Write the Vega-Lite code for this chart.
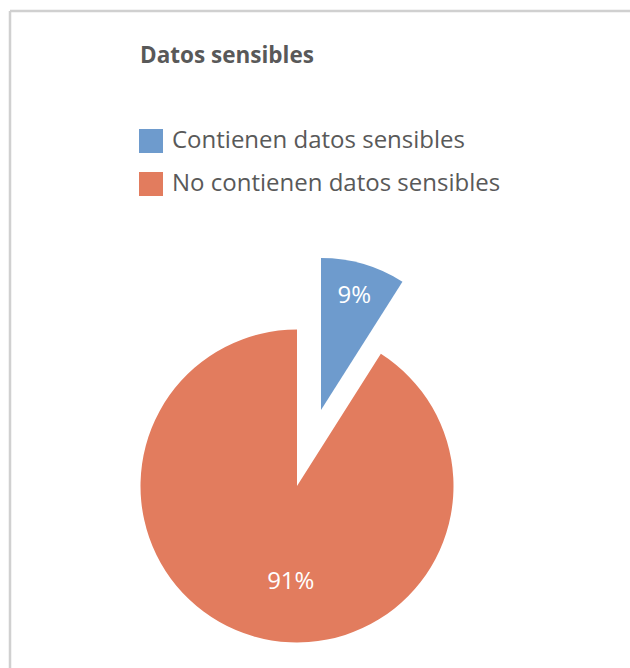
{
  "$schema": "https://vega.github.io/schema/vega-lite/v6.json",
  "width": 620,
  "height": 657,
  "autosize": "none",
  "padding": {"left": 10, "top": 11, "right": 0, "bottom": 0},
  "background": "white",
  "view": {"stroke": "#D0D0D0", "strokeWidth": 2.5, "strokeDash": [620, 1277, 657, 0], "fill": null},
  "config": {
    "font": "Open Sans"
  },
  "title": {
    "text": "Datos sensibles",
    "anchor": "start",
    "frame": "group",
    "dx": 130,
    "offset": -74,
    "baseline": "alphabetic",
    "fontSize": 22.5,
    "fontWeight": "bold",
    "color": "#595959",
    "font": "Open Sans"
  },
  "data": {
    "values": [
      {"category": "Contienen datos sensibles", "value": 9, "label": "9%"},
      {"category": "No contienen datos sensibles", "value": 91, "label": "91%"}
    ]
  },
  "transform": [
    {"stack": "value", "groupby": [], "sort": [{"field": "category", "order": "ascending"}], "as": ["start", "end"]},
    {"calculate": "(datum.start + datum.end) / 2", "as": "mid"}
  ],
  "layer": [
    {
      "transform": [{"filter": "datum.category === 'No contienen datos sensibles'"}],
      "mark": {"type": "arc", "outerRadius": 156.5, "xOffset": -23, "yOffset": 146.5},
      "encoding": {
        "theta": {"field": "start", "type": "quantitative", "scale": {"domain": [0, 100]}},
        "theta2": {"field": "end"},
        "color": {
          "field": "category",
          "type": "nominal",
          "scale": {"domain": ["Contienen datos sensibles", "No contienen datos sensibles"], "range": ["#6E9BCD", "#E27C5E"]},
          "legend": {
            "title": null,
            "orient": "none",
            "legendX": 129,
            "legendY": 118,
            "padding": 0,
            "symbolType": "square",
            "symbolSize": 576,
            "symbolStrokeWidth": 0,
            "symbolOpacity": 1,
            "labelFontSize": 24,
            "labelColor": "#595959",
            "labelFont": "Open Sans",
            "labelOffset": 9,
            "rowPadding": 19,
            "labelLimit": 400
          }
        }
      }
    },
    {
      "transform": [{"filter": "datum.category === 'Contienen datos sensibles'"}],
      "mark": {"type": "arc", "outerRadius": 152, "xOffset": 1, "yOffset": 70.5},
      "encoding": {
        "theta": {"field": "start", "type": "quantitative", "scale": {"domain": [0, 100]}},
        "theta2": {"field": "end"},
        "color": {"field": "category", "type": "nominal"}
      }
    },
    {
      "transform": [{"filter": "datum.category === 'Contienen datos sensibles'"}],
      "mark": {"type": "text", "radius": 119, "xOffset": 1, "yOffset": 70.5, "fontSize": 24, "color": "white", "baseline": "middle", "align": "center", "font": "Open Sans"},
      "encoding": {
        "theta": {"field": "mid", "type": "quantitative", "stack": null, "scale": {"domain": [0, 100]}},
        "text": {"field": "label"}
      }
    },
    {
      "transform": [{"filter": "datum.category === 'No contienen datos sensibles'"}],
      "mark": {"type": "text", "radius": 94, "xOffset": -3, "yOffset": 152.5, "fontSize": 24, "color": "white", "baseline": "middle", "align": "center", "font": "Open Sans"},
      "encoding": {
        "theta": {"field": "mid", "type": "quantitative", "stack": null, "scale": {"domain": [0, 100]}},
        "text": {"field": "label"}
      }
    }
  ]
}
